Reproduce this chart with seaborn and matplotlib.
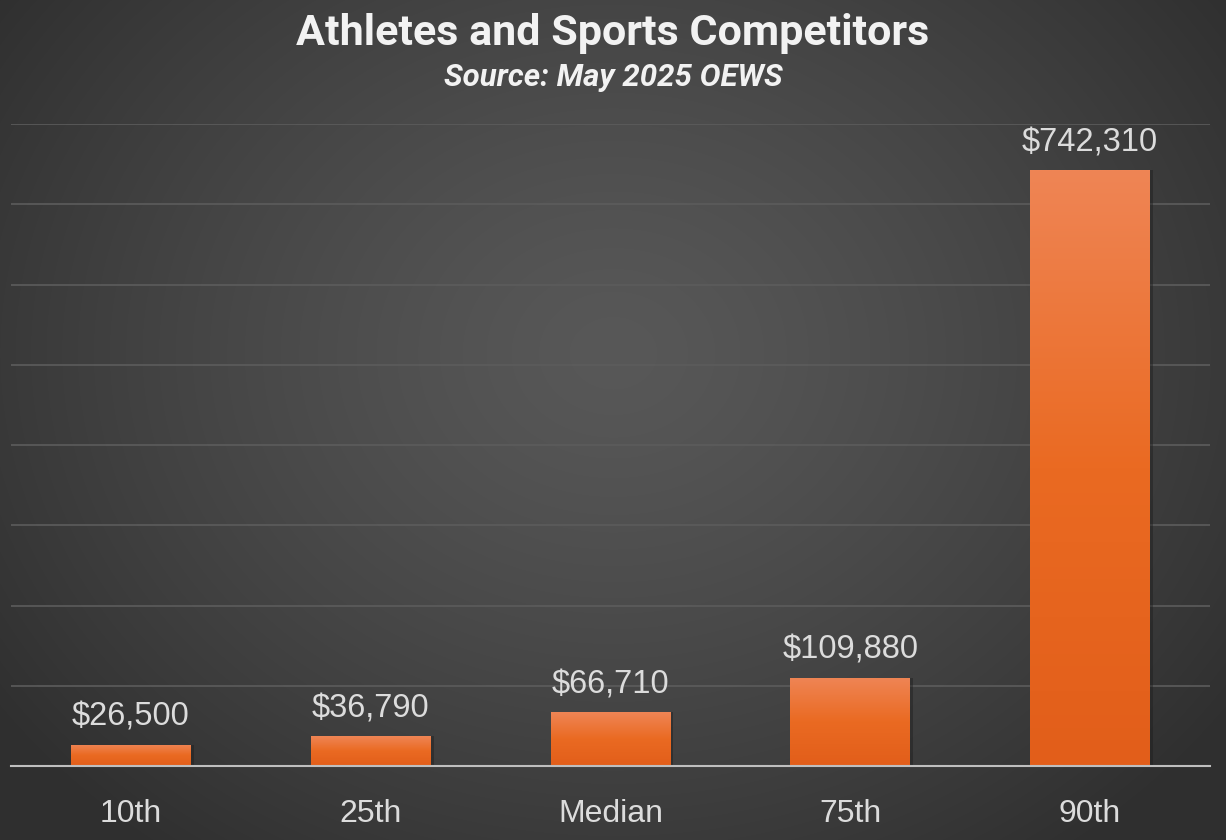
import numpy as np
import pandas as pd
import matplotlib
matplotlib.use("Agg")
import matplotlib.pyplot as plt
import seaborn as sns
from matplotlib.colors import LinearSegmentedColormap

categories = ["10th", "25th", "Median", "75th", "90th"]
wages = [26500, 36790, 66710, 109880, 742310]
labels = ["$26,500", "$36,790", "$66,710", "$109,880", "$742,310"]
title = "Athletes and Sports Competitors"
subtitle = "Source: May 2025 OEWS"

df = pd.DataFrame({"pct": categories, "wage": wages})

sns.set_theme(style="white")
plt.rcParams["font.family"] = ["Liberation Sans", "DejaVu Sans"]

W, H = 1226, 840
fig = plt.figure(figsize=(W / 100, H / 100), dpi=100)

# radial gradient background
bg = fig.add_axes([0, 0, 1, 1], zorder=-10)
yy, xx = np.mgrid[0:H, 0:W]
cx, cy = W * 0.5, H * 0.42
r = np.sqrt(((xx - cx) / (W * 0.62)) ** 2 + ((yy - cy) / (H * 0.75)) ** 2)
r = np.clip(r, 0, 1)
inner, outer = 0x58, 0x2f
val = (inner + (outer - inner) * r ** 1.3) / 255.0
img = np.dstack([val, val, val])
bg.imshow(img, aspect="auto", extent=[0, 1, 0, 1], origin="upper")
bg.axis("off")

ax = fig.add_axes([11 / W, 74 / H, 1199 / W, (766 - 124) / H])
ax.patch.set_alpha(0)
sns.barplot(data=df, x="pct", y="wage", ax=ax, width=0.5, color="#e8671f",
            saturation=1, zorder=3, linewidth=0, edgecolor="none")

ax.set_ylim(0, 800000)
ax.set_xlim(-0.5, 4.5)
ax.set_yticks(np.arange(100000, 800001, 100000))
ax.yaxis.grid(True, color="#5c5c5c", linewidth=1.2, zorder=0)
ax.set_yticklabels([])
ax.tick_params(axis="y", length=0)
ax.tick_params(axis="x", length=0, pad=24, labelsize=23, labelcolor="#dcdcdc")
ax.set_xlabel("")
ax.set_ylabel("")
for s in ["top", "right", "left"]:
    ax.spines[s].set_visible(False)
ax.spines["bottom"].set_color("#bfbfbf")
ax.spines["bottom"].set_linewidth(1.5)
ax.spines["bottom"].set_zorder(5)

cmap = LinearSegmentedColormap.from_list("bar", ["#e25e1a", "#ea6a22", "#ef8555"])
grad = np.linspace(0, 1, 256).reshape(-1, 1)
for p, lab in zip(ax.patches, labels):
    x0, y0 = p.get_x(), p.get_y()
    w, h = p.get_width(), p.get_height()
    # shadow
    sh = plt.Rectangle((x0 + 0.012, y0), w, h, color="#1e1e1e", alpha=0.45,
                       zorder=2, lw=0)
    ax.add_patch(sh)
    im = ax.imshow(grad, cmap=cmap, aspect="auto", origin="lower",
                   extent=[x0, x0 + w, y0, y0 + h], zorder=4)
    im.set_clip_path(p)
    ax.text(x0 + w / 2, y0 + h + 15000, lab, ha="center", va="bottom",
            fontsize=23.5, color="#dcdcdc", zorder=6)
ax.set_xlim(-0.5, 4.5)
ax.set_ylim(0, 800000)

fig.text(0.5, 1 - 34 / H, title, ha="center", va="center", fontsize=31,
         fontweight="bold", color="#f2f2f2", family=["Roboto", "DejaVu Sans"])
fig.text(0.5, 1 - 78 / H, subtitle, ha="center", va="center", fontsize=22.5,
         fontweight="bold", fontstyle="italic", color="#f2f2f2",
         family=["Roboto", "DejaVu Sans"])

fig.savefig("out.png", dpi=100)
